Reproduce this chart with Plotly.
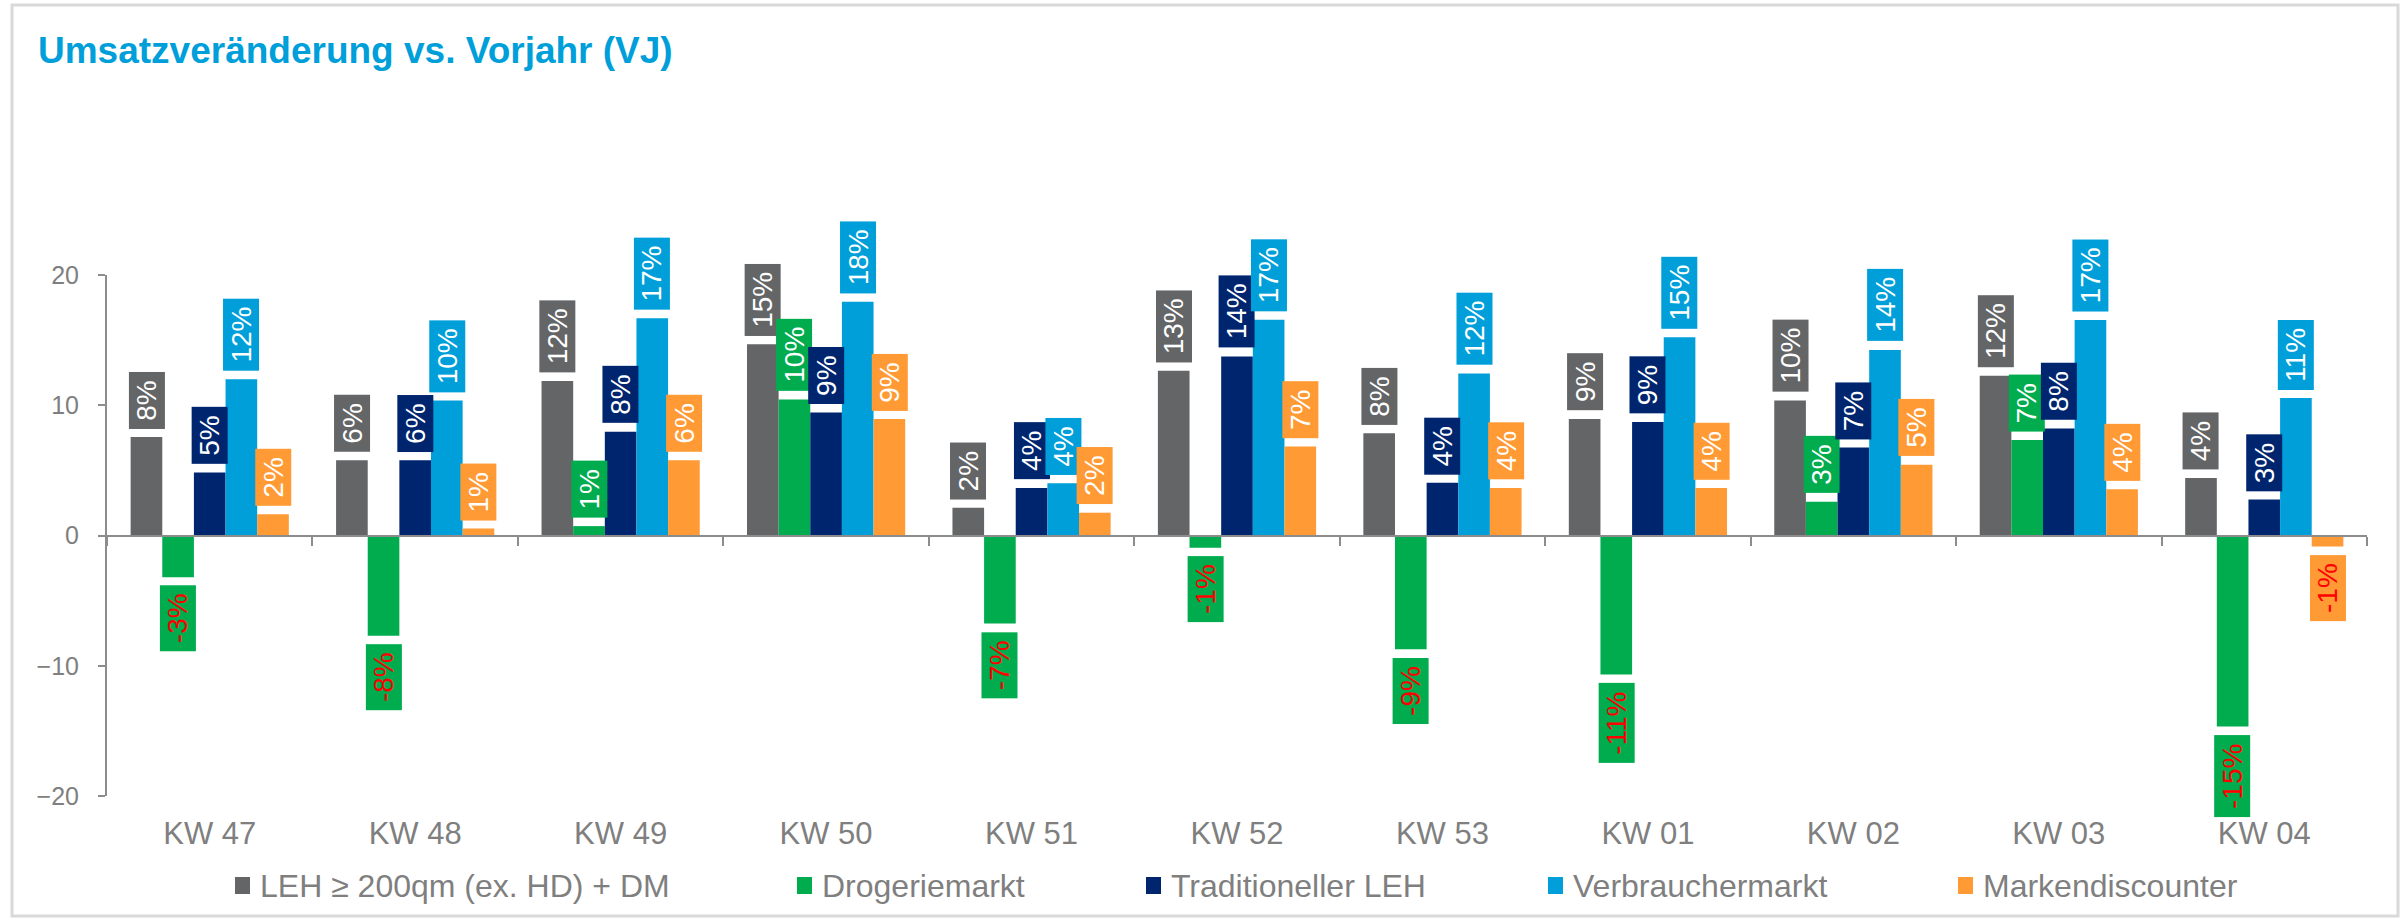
import plotly.graph_objects as go

# ---- data -------------------------------------------------------------
weeks = ["KW 47", "KW 48", "KW 49", "KW 50", "KW 51", "KW 52",
         "KW 53", "KW 01", "KW 02", "KW 03", "KW 04"]

series_names = ["LEH ≥ 200qm (ex. HD) + DM", "Drogeriemarkt",
                "Traditioneller LEH", "Verbrauchermarkt", "Markendiscounter"]

# change vs. previous year in percent
leh_dm = [7.56, 5.77, 11.86, 14.69, 2.13, 12.65, 7.85, 8.94, 10.36, 12.27, 4.42]
drogeriemarkt = [-3.20, -7.69, 0.72, 10.45, -6.75, -0.94, -8.73, -10.68, 2.60, 7.34, -14.66]
trad_leh = [4.83, 5.77, 7.97, 9.45, 3.64, 13.75, 4.05, 8.72, 6.75, 8.22, 2.76]
verbrauchermarkt = [11.99, 10.36, 16.67, 17.95, 4.01, 16.57, 12.43, 15.22, 14.25, 16.54, 10.55]
markendiscounter = [1.63, 0.53, 5.77, 8.94, 1.75, 6.84, 3.64, 3.64, 5.43, 3.55, -0.85]

y_ticks = [-20, -10, 0, 10, 20]

# ---- styling ----------------------------------------------------------
colors = ["#646567", "#00AC4E", "#00256F", "#009FDA", "#FF9A35"]
FONT = "Arial, Liberation Sans, sans-serif"
GREY_TXT = "#7F7F7F"
AXIS_GREY = "#8C8C8C"

W, H = 2407, 920
ML, MR, MT, MB = 107, 40, 275, 124
PW, PH = W - ML - MR, H - MT - MB


def px_x(p):
    return (p - ML) / PW


def px_y(p):
    return (H - MB - p) / PH


group_frac = 0.77
bar_w = group_frac / len(series_names)
offsets = [(k - 2) * bar_w for k in range(len(series_names))]

all_series = [leh_dm, drogeriemarkt, trad_leh, verbrauchermarkt, markendiscounter]

fig = go.Figure()
annotations = []

for k, (name, vals, col) in enumerate(zip(series_names, all_series, colors)):
    xs = [i + offsets[k] for i in range(len(weeks))]
    fig.add_trace(go.Bar(
        x=xs, y=vals, width=bar_w, name=name,
        marker=dict(color=col, line=dict(width=0)),
        showlegend=False, hoverinfo="skip",
    ))
    for x, v in zip(xs, vals):
        pos = v >= 0
        annotations.append(dict(
            x=x, y=v, xref="x", yref="y",
            text=f"\u2009{v:.0f}%\u2009",
            textangle=-90, showarrow=False,
            xanchor="center", yanchor="bottom" if pos else "top",
            yshift=8 if pos else -8,
            bgcolor=col, borderpad=2,
            font=dict(family=FONT, size=28, color="white" if pos else "#FF0000"),
        ))

# zero line with category boundary ticks
fig.add_trace(go.Scatter(x=[0], y=[0], xaxis="x2", mode="none",
                         showlegend=False, hoverinfo="skip"))

# legend row
legend_left = [235, 797, 1146, 1548, 1958]
legend_mid = 885.5
shapes = []
for name, col, lx in zip(series_names, colors, legend_left):
    shapes.append(dict(type="rect", xref="paper", yref="paper",
                       x0=px_x(lx), x1=px_x(lx + 15),
                       y0=px_y(legend_mid + 8.5), y1=px_y(legend_mid - 8.5),
                       fillcolor=col, line=dict(width=0)))
    annotations.append(dict(
        x=px_x(lx + 23), y=px_y(legend_mid), xref="paper", yref="paper",
        text=name, showarrow=False, xanchor="left", yanchor="middle",
        font=dict(family=FONT, size=32, color=GREY_TXT),
    ))

# outer frame
shapes.append(dict(type="rect", xref="paper", yref="paper", layer="below",
                   x0=px_x(12), x1=px_x(2398), y0=px_y(916), y1=px_y(5),
                   line=dict(color="#D9D9D9", width=3), fillcolor="rgba(0,0,0,0)"))

fig.update_layout(
    width=W, height=H,
    margin=dict(l=ML, r=MR, t=MT, b=MB, pad=0),
    paper_bgcolor="white", plot_bgcolor="white",
    barmode="overlay",
    title=dict(text="<b>Umsatzveränderung vs. Vorjahr (VJ)</b>",
               xref="container", yref="container",
               x=38 / W, xanchor="left", y=1 - 50 / H, yanchor="middle",
               font=dict(family=FONT, size=37, color="#009FDA")),
    xaxis=dict(range=[-0.5, len(weeks) - 0.5],
               tickvals=list(range(len(weeks))), ticktext=weeks,
               ticks="", showline=False, showgrid=False, zeroline=False,
               tickfont=dict(family=FONT, size=31, color=GREY_TXT),
               ticklabelstandoff=16),
    xaxis2=dict(matches="x", overlaying="x", anchor="free", position=0.5,
                showline=True, linecolor=AXIS_GREY, linewidth=2,
                ticks="outside", ticklen=9, tickwidth=2, tickcolor=AXIS_GREY,
                tickvals=[i - 0.5 for i in range(len(weeks) + 1)],
                showticklabels=False, showgrid=False, zeroline=False),
    yaxis=dict(range=[-20, 20], tickvals=y_ticks,
               showline=True, linecolor=AXIS_GREY, linewidth=2,
               ticks="outside", ticklen=7, tickwidth=2, tickcolor=AXIS_GREY,
               showgrid=False, zeroline=False,
               tickfont=dict(family=FONT, size=25, color=GREY_TXT),
               ticklabelstandoff=14),
    annotations=annotations,
    shapes=shapes,
)

fig.write_html("out.html")
